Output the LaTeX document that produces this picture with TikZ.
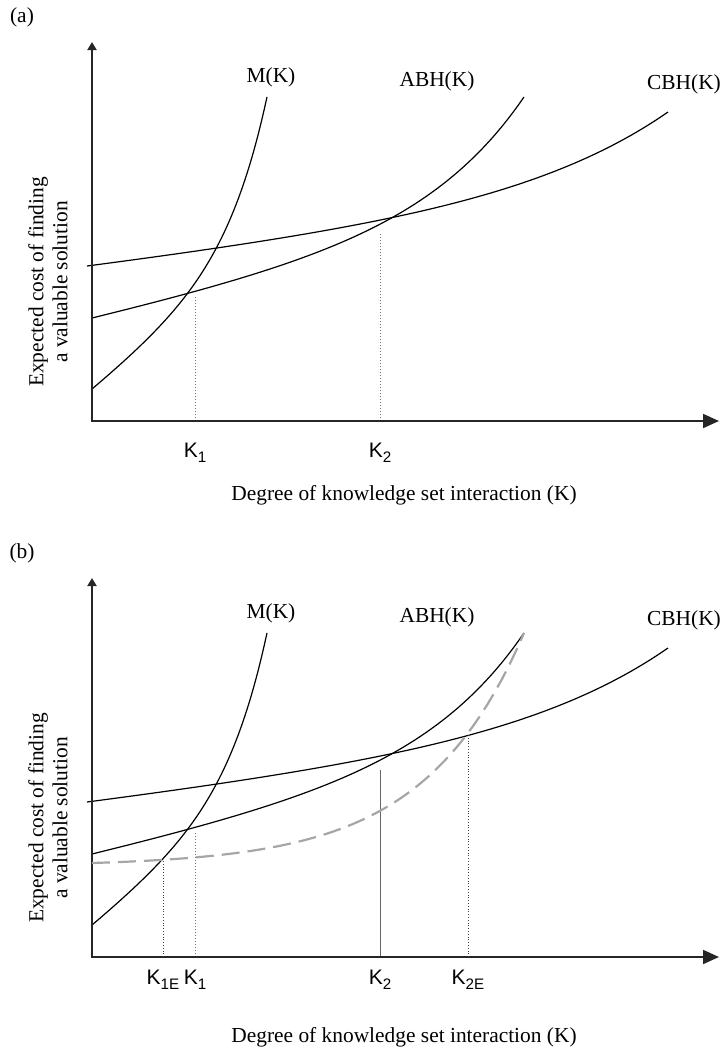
\documentclass[tikz,border=0pt]{standalone}
\usepackage{fontspec}
\setmainfont{Liberation Serif}
\setsansfont{Liberation Sans}
\usetikzlibrary{arrows.meta,positioning}

\tikzset{
  axis/.style={line width=1pt, draw=black!85, {Triangle[length=4pt,width=4.5pt]}-{Triangle[length=8pt,width=7pt]}},
  cost/.style={line width=0.6pt, samples=80},
  kline/.style={line width=0.5pt, draw=black!55, densely dotted},
  ksolid/.style={line width=0.4pt, draw=black!60},
  kdots/.style={line width=0.4pt, draw=black!75, densely dotted},
  efront/.style={line width=1.1pt, draw=black!35, dash pattern=on 9pt off 4pt},
  lbl/.style={font=\fontsize{10.7}{12}\selectfont, inner sep=0pt},
  klbl/.style={font=\sffamily\fontsize{10.5}{12}\selectfont, inner sep=0pt},
}
\newcommand{\ksub}[1]{K\raisebox{-0.4ex}{\fontsize{7.6}{8}\selectfont #1}}

\begin{document}
\begin{tikzpicture}[x=0.5pt, y=-0.5pt]
  \useasboundingbox (0,0) rectangle (722,1051);

  % both panels share axes, cost curves and labels
  \foreach \p/\dy/\kgap/\xlab/\ktwo in {a/0/11pt/495/kline, b/536/6.5pt/501/ksolid}{
    \begin{scope}[shift={(0,\dy)}]
      \node (tag\p) [lbl] at (22,17) {(\p)};

      \coordinate (O\p) at (92,421);
      \coordinate (Y\p) at (92,42);
      \coordinate (X\p) at (719,421);

      \coordinate (k1\p) at (195,421);
      \coordinate (k2\p) at (380,421);
      \draw[kline] (k1\p) -- (195,297);
      \draw[\ktwo] (k2\p) -- (380,234);

      % M(K)
      \draw[cost] plot[domain=92:267] (\x, {389-0.801*(\x-92)-1.937*(exp((\x-92)/40)-1)});
      % ABH(K)
      \draw[cost] plot[domain=92:524] (\x, {318-0.23*(\x-92)-1.64*(exp((\x-92)/100)-1)});
      % CBH(K)
      \draw[cost] plot[domain=87:668] (\x, {266-0.1197*(\x-87)-1.793*(exp((\x-87)/150)-1)});

      \draw[axis] (Y\p) -- (O\p) -- (X\p);

      \node (M\p) [lbl] at (271,77) {M(K)};
      \node (ABH\p) [lbl] at (437,81) {ABH(K)};
      \node (CBH\p) [lbl] at (684,84) {CBH(K)};

      \node (K1\p) [klbl, below=\kgap of k1\p] {\ksub{1}};
      \node (K2\p) [klbl, below=\kgap of k2\p] {\ksub{2}};

      \node (ylab\p) [lbl, rotate=90, align=center] at (48,282) {Expected cost of finding\\a valuable solution};
      \node (xlab\p) [lbl] at (404,\xlab) {Degree of knowledge set interaction (K)};
    \end{scope}
  }

  % panel (b): shifted frontier
  \begin{scope}[shift={(0,536)}]
    \draw[efront] plot[domain=92:524, samples=60] (\x, {330.1-3.1*exp((\x-92)/100)});
    \coordinate (k1e) at (163,421);
    \coordinate (k2e) at (468,421);
    \draw[kdots] (k1e) -- (163,323);
    \draw[kdots] (k2e) -- (468,199);
    \node (K1E) [klbl, below=6.5pt of k1e] {\ksub{1E}};
    \node (K2E) [klbl, below=6.5pt of k2e] {\ksub{2E}};
  \end{scope}
\end{tikzpicture}
\end{document}
